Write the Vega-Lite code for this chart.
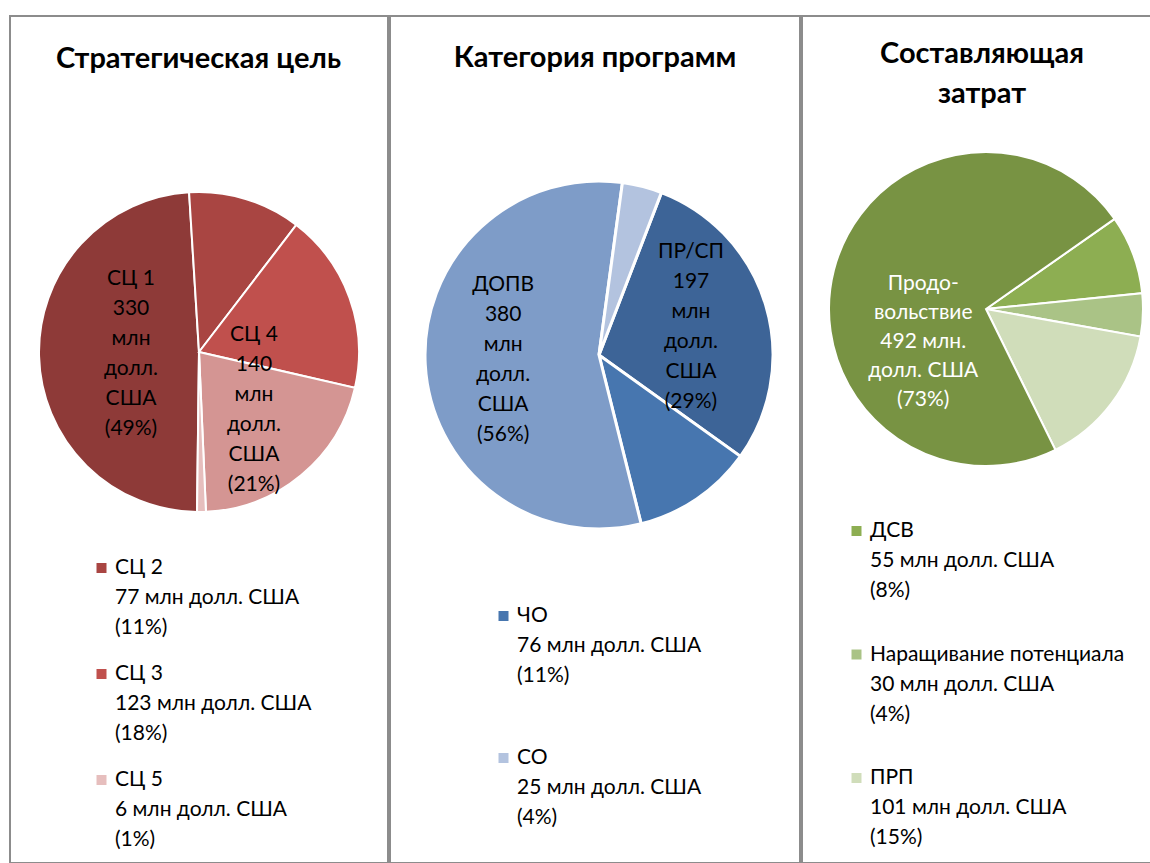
{
  "$schema": "https://vega.github.io/schema/vega-lite/v6.json",
  "padding": {"left": 9, "top": 15, "right": 0, "bottom": 0},
  "background": "white",
  "spacing": 0,
  "config": {"view": {"stroke": "#8c8c8c", "strokeWidth": 2}, "font": "Lato"},
  "datasets": {
    "p1": [
      {"name": "СЦ 1", "value": 330, "idx": 1, "label": "СЦ 1\n330\nмлн\nдолл.\nСША\n(49%)", "li": null, "legend": ""},
      {"name": "СЦ 2", "value": 77, "idx": 2, "label": "", "li": 1, "legend": "СЦ 2\n77 млн долл. США\n(11%)"},
      {"name": "СЦ 3", "value": 123, "idx": 3, "label": "", "li": 2, "legend": "СЦ 3\n123 млн долл. США\n(18%)"},
      {"name": "СЦ 4", "value": 140, "idx": 4, "label": "СЦ 4\n140\nмлн\nдолл.\nСША\n(21%)", "li": null, "legend": ""},
      {"name": "СЦ 5", "value": 6, "idx": 5, "label": "", "li": 3, "legend": "СЦ 5\n6 млн долл. США\n(1%)"}
    ],
    "p2": [
      {"name": "ПР/СП", "value": 197, "idx": 1, "label": "ПР/СП\n197\nмлн\nдолл.\nСША\n(29%)", "li": null, "legend": ""},
      {"name": "ЧО", "value": 76, "idx": 2, "label": "", "li": 1, "legend": "ЧО\n76 млн долл. США\n(11%)"},
      {"name": "ДОПВ", "value": 380, "idx": 3, "label": "ДОПВ\n380\nмлн\nдолл.\nСША\n(56%)", "li": null, "legend": ""},
      {"name": "СО", "value": 25, "idx": 4, "label": "", "li": 2, "legend": "СО\n25 млн долл. США\n(4%)"}
    ],
    "p3": [
      {"name": "ДСВ", "value": 55, "idx": 1, "label": "", "li": 1, "legend": "ДСВ\n55 млн долл. США\n(8%)"},
      {"name": "Наращивание потенциала", "value": 30, "idx": 2, "label": "", "li": 2, "legend": "Наращивание потенциала\n30 млн долл. США\n(4%)"},
      {"name": "ПРП", "value": 101, "idx": 3, "label": "", "li": 3, "legend": "ПРП\n101 млн долл. США\n(15%)"},
      {"name": "Продовольствие", "value": 492, "idx": 4, "label": "Продо-\nвольствие\n492 млн.\nдолл. США\n(73%)", "li": null, "legend": ""}
    ]
  },
  "hconcat": [
    {
      "width": 378, "height": 847,
      "data": {"name": "p1"},
      "layer": [
        {
          "data": {"values": [{"t": "Стратегическая цель"}]},
          "mark": {"type": "text", "x": 188.5, "y": 43, "align": "center", "baseline": "middle", "fontSize": 29, "fontWeight": "bold", "font": "Lato", "color": "black"},
          "encoding": {"text": {"field": "t", "type": "nominal"}}
        },
        {
          "mark": {"type": "arc", "radius": 160, "x": 189, "y": 336, "stroke": "white", "strokeWidth": 2},
          "encoding": {
            "theta": {"field": "value", "type": "quantitative", "stack": true, "scale": {"range": [3.154, 9.437]}},
            "order": {"field": "idx", "type": "quantitative"},
            "color": {"field": "name", "type": "nominal", "legend": null, "scale": {"domain": ["СЦ 1", "СЦ 2", "СЦ 3", "СЦ 4", "СЦ 5"], "range": ["#8E3A38", "#A94542", "#C0504D", "#D49593", "#E6BEBD"]}}
          }
        },
        {
          "mark": {"type": "text", "radius": 75, "x": 189, "y": 336, "dx": 7, "dy": -75, "lineBreak": "\n", "lineHeight": 30, "fontSize": 21, "font": "Lato", "color": "black", "align": "center", "baseline": "middle"},
          "encoding": {
            "theta": {"field": "value", "type": "quantitative", "stack": true},
            "order": {"field": "idx", "type": "quantitative"},
            "detail": {"field": "name", "type": "nominal"},
            "text": {"field": "label", "type": "nominal"}
          }
        },
        {
          "transform": [{"filter": "datum.li != null"}],
          "mark": {"type": "point", "shape": "square", "filled": true, "size": 100, "opacity": 1, "x": 91.5},
          "encoding": {
            "y": {"field": "li", "type": "quantitative", "axis": null, "scale": {"domain": [1, 3], "range": [552, 764]}},
            "color": {"field": "name", "type": "nominal", "legend": null}
          }
        },
        {
          "transform": [{"filter": "datum.li != null"}],
          "mark": {"type": "text", "x": 105, "align": "left", "baseline": "middle", "lineBreak": "\n", "lineHeight": 30, "fontSize": 21, "font": "Lato", "color": "black"},
          "encoding": {
            "y": {"field": "li", "type": "quantitative", "axis": null},
            "text": {"field": "legend", "type": "nominal"}
          }
        }
      ]
    },
    {
      "width": 410, "height": 847,
      "data": {"name": "p2"},
      "layer": [
        {
          "data": {"values": [{"t": "Категория программ"}]},
          "mark": {"type": "text", "x": 205, "y": 42, "align": "center", "baseline": "middle", "fontSize": 29, "fontWeight": "bold", "font": "Lato", "color": "black"},
          "encoding": {"text": {"field": "t", "type": "nominal"}}
        },
        {
          "mark": {"type": "arc", "radius": 174, "x": 209, "y": 339, "stroke": "white", "strokeWidth": 3},
          "encoding": {
            "theta": {"field": "value", "type": "quantitative", "stack": true, "scale": {"range": [0.367, 6.650]}},
            "order": {"field": "idx", "type": "quantitative"},
            "color": {"field": "name", "type": "nominal", "legend": null, "scale": {"domain": ["ПР/СП", "ЧО", "ДОПВ", "СО"], "range": ["#3D6497", "#4776AF", "#7E9CC8", "#B3C3DF"]}}
          }
        },
        {
          "mark": {"type": "text", "radius": 96, "x": 209, "y": 339, "dy": -75, "lineBreak": "\n", "lineHeight": 30, "fontSize": 21, "font": "Lato", "color": "black", "align": "center", "baseline": "middle"},
          "encoding": {
            "theta": {"field": "value", "type": "quantitative", "stack": true},
            "order": {"field": "idx", "type": "quantitative"},
            "detail": {"field": "name", "type": "nominal"},
            "text": {"field": "label", "type": "nominal"}
          }
        },
        {
          "transform": [{"filter": "datum.li != null"}],
          "mark": {"type": "point", "shape": "square", "filled": true, "size": 100, "opacity": 1, "x": 113.5},
          "encoding": {
            "y": {"field": "li", "type": "quantitative", "axis": null, "scale": {"domain": [1, 2], "range": [600, 742]}},
            "color": {"field": "name", "type": "nominal", "legend": null}
          }
        },
        {
          "transform": [{"filter": "datum.li != null"}],
          "mark": {"type": "text", "x": 127, "align": "left", "baseline": "middle", "lineBreak": "\n", "lineHeight": 30, "fontSize": 21, "font": "Lato", "color": "black"},
          "encoding": {
            "y": {"field": "li", "type": "quantitative", "axis": null},
            "text": {"field": "legend", "type": "nominal"}
          }
        }
      ]
    },
    {
      "width": 352, "height": 847,
      "data": {"name": "p3"},
      "layer": [
        {
          "data": {"values": [{"t": "Составляющая\nзатрат"}]},
          "mark": {"type": "text", "x": 180, "y": 38, "align": "center", "baseline": "middle", "lineBreak": "\n", "lineHeight": 40, "fontSize": 29, "fontWeight": "bold", "font": "Lato", "color": "black"},
          "encoding": {"text": {"field": "t", "type": "nominal"}}
        },
        {
          "mark": {"type": "arc", "radius": 157, "x": 184, "y": 293, "stroke": "white", "strokeWidth": 2},
          "encoding": {
            "theta": {"field": "value", "type": "quantitative", "stack": true, "scale": {"range": [0.960, 7.243]}},
            "order": {"field": "idx", "type": "quantitative"},
            "color": {"field": "name", "type": "nominal", "legend": null, "scale": {"domain": ["ДСВ", "Наращивание потенциала", "ПРП", "Продовольствие"], "range": ["#8DAE52", "#AAC386", "#D0DDBA", "#789343"]}}
          }
        },
        {
          "mark": {"type": "text", "radius": 70, "x": 184, "y": 293, "dx": 5, "dy": -8, "lineBreak": "\n", "lineHeight": 29, "fontSize": 21, "font": "Lato", "color": "white", "align": "center", "baseline": "middle"},
          "encoding": {
            "theta": {"field": "value", "type": "quantitative", "stack": true},
            "order": {"field": "idx", "type": "quantitative"},
            "detail": {"field": "name", "type": "nominal"},
            "text": {"field": "label", "type": "nominal"}
          }
        },
        {
          "transform": [{"filter": "datum.li != null"}],
          "mark": {"type": "point", "shape": "square", "filled": true, "size": 100, "opacity": 1, "x": 54.5},
          "encoding": {
            "y": {"field": "li", "type": "quantitative", "axis": null, "scale": {"domain": [1, 3], "range": [515, 762]}},
            "color": {"field": "name", "type": "nominal", "legend": null}
          }
        },
        {
          "transform": [{"filter": "datum.li != null"}],
          "mark": {"type": "text", "x": 68, "align": "left", "baseline": "middle", "lineBreak": "\n", "lineHeight": 30, "fontSize": 21, "font": "Lato", "color": "black"},
          "encoding": {
            "y": {"field": "li", "type": "quantitative", "axis": null},
            "text": {"field": "legend", "type": "nominal"}
          }
        }
      ]
    }
  ],
  "resolve": {"scale": {"color": "independent", "theta": "independent", "x": "independent", "y": "independent"}}
}
